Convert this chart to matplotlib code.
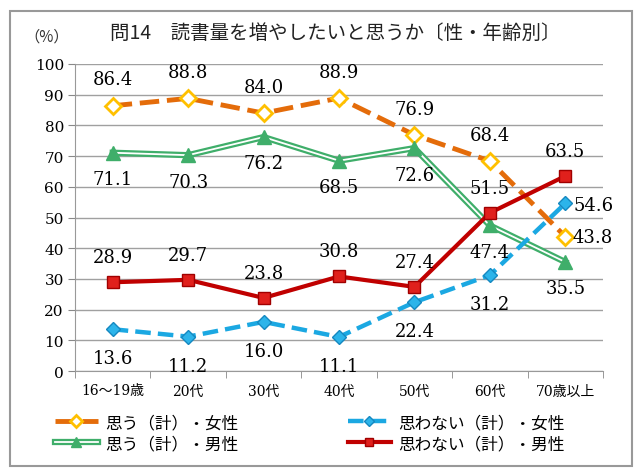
import matplotlib
matplotlib.use("Agg")
import matplotlib.pyplot as plt
from matplotlib.patches import Rectangle
from matplotlib.legend_handler import HandlerTuple

plt.rcParams['font.family'] = ['DejaVu Serif', 'Noto Sans CJK JP']

categories = ["16〜19歳", "20代", "30代", "40代", "50代", "60代", "70歳以上"]
omou_f = [86.4, 88.8, 84.0, 88.9, 76.9, 68.4, 43.8]
omowanai_f = [13.6, 11.2, 16.0, 11.1, 22.4, 31.2, 54.6]
omou_m = [71.1, 70.3, 76.2, 68.5, 72.6, 47.4, 35.5]
omowanai_m = [28.9, 29.7, 23.8, 30.8, 27.4, 51.5, 63.5]
series_names = ["思う（計）・女性", "思わない（計）・女性", "思う（計）・男性", "思わない（計）・男性"]

fig = plt.figure(figsize=(6.4, 4.77), dpi=100)
ax = fig.add_axes([75/640, 1-372/477, (603-75)/640, (372-65)/477])

x = list(range(len(categories)))
jp = ['Noto Sans CJK JP']

# orange
lo, = ax.plot(x, omou_f, color='#E46C0A', lw=3.5, dashes=(4, 1.6), marker='D',
              markersize=8.5, markerfacecolor='white', markeredgecolor='#FFC000',
              markeredgewidth=2, zorder=3)
# green double line
lg1, = ax.plot(x, omou_m, color='#3FAE6A', lw=4.5, zorder=4)
lg2, = ax.plot(x, omou_m, color='white', lw=1.3, zorder=4.1)
lg3, = ax.plot(x, omou_m, ls='none', marker='^', markersize=10,
               markerfacecolor='#3FAE6A', markeredgecolor='#3FAE6A', zorder=4.2)
# red
lr, = ax.plot(x, omowanai_m, color='#C00000', lw=3, marker='s', markersize=9,
              markerfacecolor='#E0201C', markeredgecolor='#A00000', markeredgewidth=1,
              zorder=5)
# blue
lb, = ax.plot(x, omowanai_f, color='#1BA8E2', lw=3.2, dashes=(3.5, 1.6), marker='D',
              markersize=7.5, markerfacecolor='#2CB4EA', markeredgecolor='#1588C0',
              markeredgewidth=1, zorder=6)

lbl = dict(fontsize=13, family=['DejaVu Serif'], ha='center', va='center', zorder=10)

def put(i, v, dx, dy, ha='center'):
    ax.annotate(f"{v:.1f}", (i, v), xytext=(dx, dy), textcoords='offset points',
                **{**lbl, 'ha': ha})

for i, v in enumerate(omou_f):
    if i == 6:
        put(i, v, 5, 0, 'left')
    else:
        put(i, v, 0, 19)
for i, v in enumerate(omou_m):
    put(i, v, 0, -19)
for i, v in enumerate(omowanai_m):
    put(i, v, 0, 18)
for i, v in enumerate(omowanai_f):
    if i == 6:
        put(i, v, 6, -1, 'left')
    else:
        put(i, v, 0, -21)

ax.set_xlim(-0.5, len(categories) - 0.5)
ax.set_ylim(0, 100)
ax.set_yticks(range(0, 101, 10))
ax.tick_params(axis='y', labelsize=11, length=5, color='#888888', pad=3)
ax.set_xticks(x)
ax.set_xticklabels(categories, fontsize=10, family=['DejaVu Serif', 'Noto Sans CJK JP'])
ax.tick_params(axis='x', length=0, pad=9)
ax.set_xticks([i - 0.5 for i in range(len(categories) + 1)], minor=True)
ax.tick_params(axis='x', which='minor', length=5, color='#888888', direction='out')
ax.grid(axis='y', color='#A0A0A0', lw=1)
ax.set_axisbelow(True)
for s in ['top', 'right']:
    ax.spines[s].set_visible(False)
for s in ['left', 'bottom']:
    ax.spines[s].set_color('#999999')

fig.text(47/640, 1-37/477, "（%）", fontsize=11, ha='center', va='center', family=jp, color='#333333')
fig.text(335/640, 1-33/477, "問14　読書量を増やしたいと思うか〔性・年齢別〕", fontsize=14,
         ha='center', va='center', family=jp, color='#222222')

fig.patches.append(Rectangle((10/640, 1-467/477), 622/640, 455/477, transform=fig.transFigure,
                             fill=False, edgecolor='#999999', lw=1.5))

leg = fig.legend(handles=[lo, (lg1, lg2, lg3), lb, lr],
                 labels=[series_names[0], series_names[2], series_names[1], series_names[3]],
                 handler_map={tuple: HandlerTuple(ndivide=1, pad=0)},
                 ncol=2, loc='center left', bbox_to_anchor=(48/640, 1-434/477), frameon=False,
                 prop={'family': jp, 'size': 12}, handlelength=2.6, handletextpad=0.4,
                 columnspacing=6.6, labelspacing=0.25, borderaxespad=0, markerscale=0.7)

fig.savefig("out.png", dpi=100)
